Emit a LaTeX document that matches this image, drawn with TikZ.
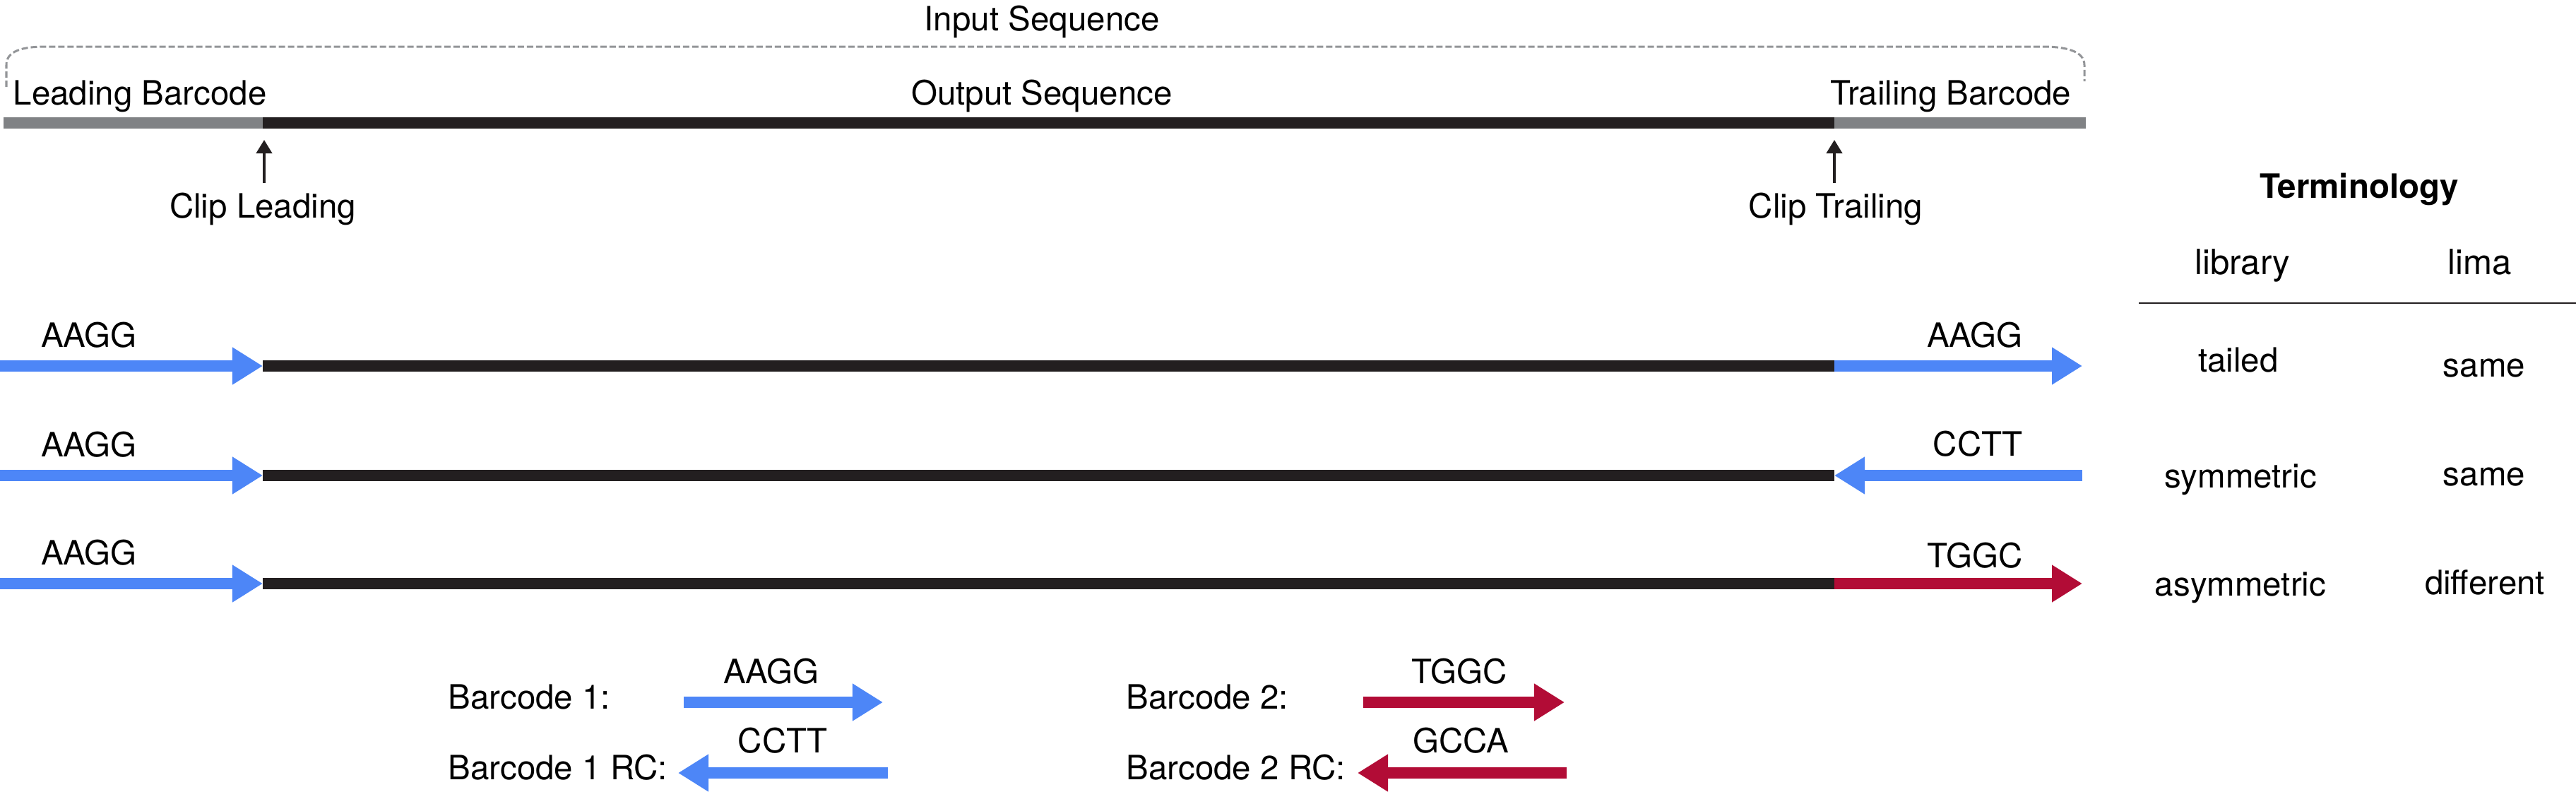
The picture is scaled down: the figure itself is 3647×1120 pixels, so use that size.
\documentclass[tikz,border=0pt]{standalone}
\usepackage{fontspec}
\setmainfont{TeX Gyre Heros}
\usetikzlibrary{arrows.meta}
\definecolor{bcblue}{HTML}{4D86F7}
\definecolor{bcred}{HTML}{B20C36}
\definecolor{seqblack}{HTML}{231F20}
\definecolor{bcgray}{HTML}{808285}
\definecolor{dashgray}{HTML}{939598}

\begin{document}
\begin{tikzpicture}[x=0.01cm, y=-0.01cm,
  seq/.style={line width=0.165cm, seqblack},
  bcbar/.style={line width=0.165cm, bcgray},
  bcarrow/.style={line width=0.165cm, -{Triangle[length=0.43cm,width=0.5cm]}},
  cliparrow/.style={line width=0.04cm, seqblack, -{Triangle[length=0.19cm,width=0.22cm]}},
  lbl/.style={anchor=base, inner sep=0pt, font=\fontsize{13.5}{16}\selectfont},
  hdr/.style={anchor=base, inner sep=0pt, font=\fontsize{14}{17}\selectfont}]
\useasboundingbox (0,0) rectangle (3647,1120);

% input sequence bracket
\draw[dashgray, line width=0.03cm, dash pattern=on 0.09cm off 0.04cm]
  (9,123) -- (9,92) .. controls (9,72) and (32,66) .. (64,66) -- (2892,66)
  .. controls (2924,66) and (2951,72) .. (2951,92) -- (2951,115);
\node[lbl] (inseq) at (1475,43) {Input Sequence};

% top sequence
\coordinate (top0) at (5,174);
\coordinate (topL) at (372,174);
\coordinate (topT) at (2597,174);
\coordinate (top1) at (2953,174);
\draw[bcbar] (top0) -- (topL);
\draw[seq] (topL) -- (topT);
\draw[bcbar] (topT) -- (top1);
\node[lbl, anchor=base west] (leadbc) at (18,148) {Leading Barcode};
\node[lbl] (outseq) at (1475,148) {Output Sequence};
\node[lbl, anchor=base east] (trailbc) at (2933,148) {Trailing Barcode};

% clip positions
\coordinate (clipLs) at (374,259);
\coordinate (clipLe) at (374,198);
\coordinate (clipTs) at (2597,259);
\coordinate (clipTe) at (2597,198);
\draw[cliparrow] (clipLs) -- (clipLe);
\draw[cliparrow] (clipTs) -- (clipTe);
\node[lbl] (clipL) at (372,308) {Clip Leading};
\node[lbl] (clipT) at (2599,308) {Clip Trailing};

% barcoded reads
\foreach \r/\yy in {1/518, 2/673, 3/826} {
  \coordinate (s\r) at (0,\yy);
  \coordinate (a\r) at (372,\yy);
  \coordinate (b\r) at (2597,\yy);
  \coordinate (e\r) at (2948,\yy);
  \draw[bcarrow, bcblue] (s\r) -- (a\r);
  \draw[seq] (a\r) -- (b\r);
  \node[lbl] (lead\r) at (126,\yy-27) {AAGG};
}
\draw[bcarrow, bcblue] (b1) -- (e1);
\node[lbl] (trail1) at (2796,491) {AAGG};
\draw[bcarrow, bcblue] (e2) -- (b2);
\node[lbl] (trail2) at (2800,645) {CCTT};
\draw[bcarrow, bcred] (b3) -- (e3);
\node[lbl] (trail3) at (2796,803) {TGGC};

% terminology table
\node[lbl, font=\fontsize{13.5}{16}\selectfont\bfseries] (term) at (3340,280) {Terminology};
\node[hdr] (lib) at (3175,388) {library};
\node[hdr] (lima) at (3511,388) {lima};
\coordinate (rule0) at (3028,429);
\coordinate (rule1) at (3647,429);
\draw[seqblack, line width=0.02cm] (rule0) -- (rule1);
\node[lbl] (lib1) at (3169,526) {tailed};
\node[lbl] (lima1) at (3517,533) {same};
\node[lbl] (lib2) at (3172,690) {symmetric};
\node[lbl] (lima2) at (3517,687) {same};
\node[lbl] (lib3) at (3172,843) {asymmetric};
\node[lbl] (lima3) at (3518,841) {different};

% barcode legend
\node[lbl, anchor=base west] (bc1) at (634,1003) {Barcode 1:};
\node[lbl, anchor=base west] (bc1rc) at (634,1103) {Barcode 1 RC:};
\node[lbl, anchor=base west] (bc2) at (1594,1003) {Barcode 2:};
\node[lbl, anchor=base west] (bc2rc) at (1594,1103) {Barcode 2 RC:};
\coordinate (bc1s) at (968,994);
\coordinate (bc1e) at (1250,994);
\coordinate (bc1rcs) at (1257,1094);
\coordinate (bc1rce) at (960,1094);
\coordinate (bc2s) at (1930,994);
\coordinate (bc2e) at (2215,994);
\coordinate (bc2rcs) at (2218,1094);
\coordinate (bc2rce) at (1922,1094);
\draw[bcarrow, bcblue] (bc1s) -- (bc1e);
\draw[bcarrow, bcblue] (bc1rcs) -- (bc1rce);
\draw[bcarrow, bcred] (bc2s) -- (bc2e);
\draw[bcarrow, bcred] (bc2rcs) -- (bc2rce);
\node[lbl] (seq1) at (1092,967) {AAGG};
\node[lbl] (seq1rc) at (1108,1065) {CCTT};
\node[lbl] (seq2) at (2066,967) {TGGC};
\node[lbl] (seq2rc) at (2068,1065) {GCCA};
\end{tikzpicture}
\end{document}
